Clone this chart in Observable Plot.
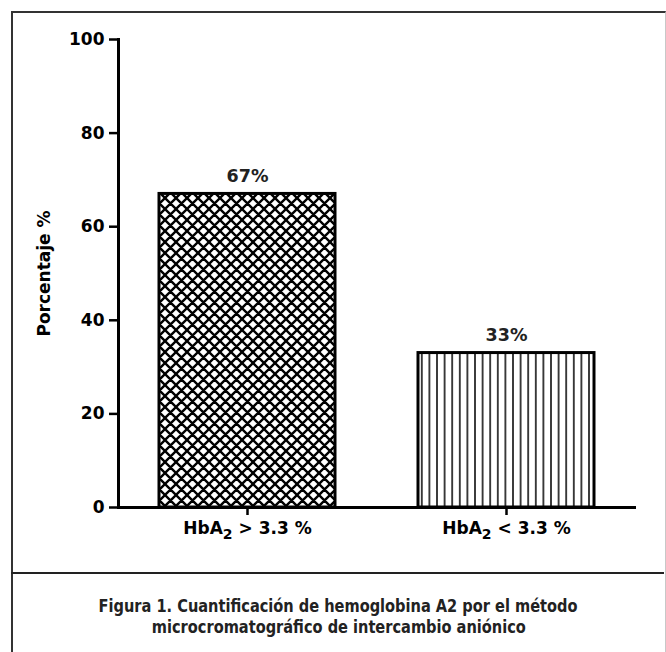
<!DOCTYPE html>
<html>
<head>
<meta charset="utf-8">
<script src="https://cdn.jsdelivr.net/npm/d3@7"></script>
<script src="https://cdn.jsdelivr.net/npm/@observablehq/plot@0.6"></script>
<style>
  html, body { margin: 0; padding: 0; background: #fff; }
  #wrap { position: relative; width: 666px; height: 652px; overflow: hidden; background: #fff; }
  #box { position: absolute; left: 11px; top: 11px; width: 652px; height: 700px;
         border-left: 2px solid #333; border-top: 2px solid #333; border-right: 1px solid #c8c8c8; }
  #divider { position: absolute; left: 11px; top: 572px; width: 653px; height: 0; border-top: 2px solid #222; }
  #chart { position: absolute; left: 0; top: 0; }
  #caption { position: absolute; left: 11px; width: 655px; top: 595px; text-align: center;
             font-family: "Liberation Sans Narrow", "DejaVu Sans Condensed", sans-serif;
             font-weight: bold; font-size: 18px; line-height: 21px; color: #222; }
  #caption span { display: inline-block; transform: scaleX(0.9); transform-origin: center; white-space: nowrap; }
</style>
</head>
<body>
<div id="wrap">
  <div id="box"></div>
  <div id="divider"></div>
  <div id="chart"></div>
  <div id="caption"><span>Figura 1. Cuantificación de hemoglobina A2 por el método</span><br><span>microcromatográfico de intercambio aniónico</span></div>
</div>
<script>
const categories = ["HbA₂ > 3.3 %", "HbA₂ < 3.3 %"];
const values = [67, 33];
const valueLabels = ["67%", "33%"];
const yTicks = [0, 20, 40, 60, 80, 100];
const yLabel = "Porcentaje %";

const data = categories.map((c, i) => ({cat: c, value: values[i], label: valueLabels[i]}));

const chart = Plot.plot({
  width: 666,
  height: 557,
  marginLeft: 118,
  marginRight: 30,
  marginTop: 39,
  marginBottom: 50,
  style: {fontFamily: "DejaVu Sans", fontSize: "17px", fontWeight: "bold", color: "#000", background: "transparent"},
  x: {domain: categories, paddingInner: 0.32, paddingOuter: 0.16},
  y: {domain: [0, 100]},
  marks: [
    Plot.barY(data, {filter: d => d.cat === categories[0], x: "cat", y: "value", fill: "url(#crossPat)", stroke: "#000", strokeWidth: 3}),
    Plot.barY(data, {filter: d => d.cat === categories[1], x: "cat", y: "value", fill: "url(#vertPat)", stroke: "#000", strokeWidth: 3}),
    Plot.text(data, {x: "cat", y: "value", text: "label", dy: -12, lineAnchor: "bottom", fontSize: 17.5, fontWeight: "bold", fill: "#222"}),
    Plot.axisY({ticks: yTicks, tickSize: 9, tickPadding: 5, strokeWidth: 2.5, fontSize: 17, label: yLabel, labelAnchor: "center", labelArrow: "none", labelOffset: 81}),
    Plot.axisX({tickSize: 8, tickPadding: 6, strokeWidth: 2.5, fontSize: 17, label: null}),
    Plot.frame({anchor: "left", strokeWidth: 3}),
    Plot.ruleY([0], {strokeWidth: 3})
  ]
});

// patterns
const svg = d3.select(chart);
const defs = svg.insert("defs", ":first-child");
const cp = defs.append("pattern").attr("id", "crossPat").attr("patternUnits", "userSpaceOnUse")
  .attr("width", 11).attr("height", 11);
cp.append("rect").attr("width", 11).attr("height", 11).attr("fill", "#fff");
cp.append("path").attr("d", "M-1,-1 L12,12 M-1,10 L1,12 M10,-1 L12,1 M12,-1 L-1,12 M-1,1 L1,-1 M10,12 L12,10")
  .attr("stroke", "#000").attr("stroke-width", 2.4);
const vp = defs.append("pattern").attr("id", "vertPat").attr("patternUnits", "userSpaceOnUse")
  .attr("width", 7.6).attr("height", 10);
vp.append("rect").attr("width", 7.6).attr("height", 10).attr("fill", "#fff");
vp.append("line").attr("x1", 3.8).attr("x2", 3.8).attr("y1", 0).attr("y2", 10)
  .attr("stroke", "#111").attr("stroke-width", 1.6);

// y label font
svg.selectAll("g[aria-label='y-axis label'] text").attr("font-size", 17);

// subscript in x tick labels
svg.selectAll("g[aria-label='x-axis tick label'] text").each(function() {
  const t = d3.select(this);
  const s = t.text();
  const parts = s.split("₂");
  if (parts.length === 2) {
    t.text(null);
    t.append("tspan").text(parts[0]);
    t.append("tspan").attr("dy", 5).attr("font-size", 14).text("2");
    t.append("tspan").attr("dy", -5).text(parts[1]);
  }
});

document.getElementById("chart").appendChild(chart);
</script>
</body>
</html>
